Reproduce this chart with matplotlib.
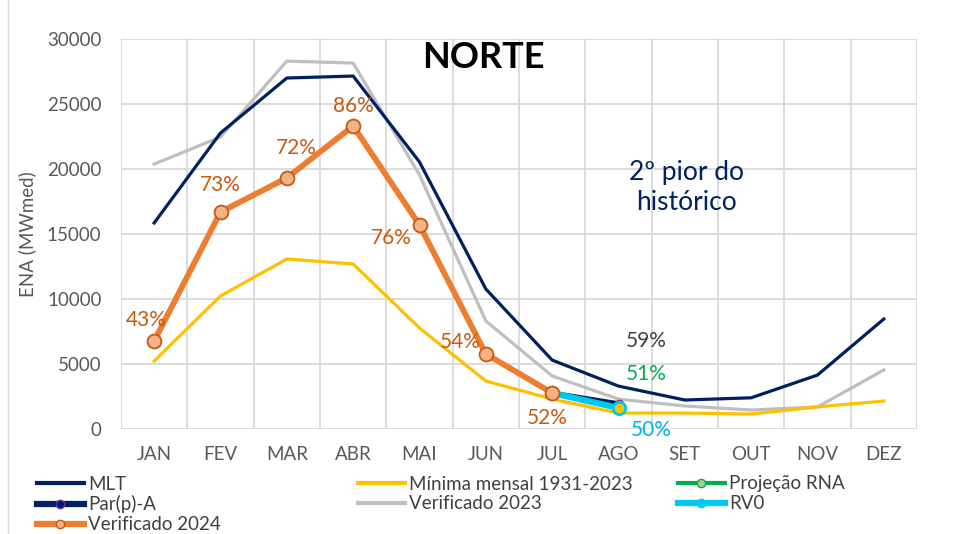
import matplotlib
matplotlib.use("Agg")
import matplotlib.pyplot as plt
from matplotlib.lines import Line2D
import numpy as np

plt.rcParams['font.family'] = ['Lato', 'DejaVu Sans']

months = ["JAN", "FEV", "MAR", "ABR", "MAI", "JUN", "JUL", "AGO", "SET", "OUT", "NOV", "DEZ"]
mlt = [15850, 22770, 27000, 27150, 20540, 10770, 5300, 3300, 2230, 2400, 4150, 8460]
minima = [5230, 10230, 13080, 12690, 7770, 3690, 2300, 1230, 1230, 1150, 1700, 2150]
ver2023 = [20380, 22460, 28300, 28150, 19540, 8310, 4080, 2300, 1770, 1460, 1700, 4540]
ver2024 = [6770, 16690, 19310, 23310, 15690, 5770, 2770]
proj_rna = [2770, 1680]
parpa = [2770, 1950]
rv0 = [2770, 1620]
pct_2024 = ["43%", "73%", "72%", "86%", "76%", "54%", "52%"]

x = np.arange(len(months))

fig = plt.figure(figsize=(9.58, 5.34), dpi=100)
ax = fig.add_axes([121/958, 1-429/534, (917-121)/958, (429-39)/534])

navy = "#002060"
ax.plot(x, mlt, color=navy, lw=2.3, zorder=3)
ax.plot(x, minima, color="#FFC000", lw=2.3, zorder=3)
ax.plot(x, ver2023, color="#BFBFBF", lw=2.3, zorder=2)
ax.plot(x[6:8], proj_rna, color="#00B050", lw=2.5, marker="o", ms=5, mfc="#A9D18E", mec="#00B050", zorder=4)
ax.plot(x[6:8], parpa, color=navy, lw=3.5, marker="o", ms=6, mfc=navy, mec="#7030A0", zorder=5)
ax.plot(x[6:8], rv0, color="#00C8F0", lw=4.5, marker="o", ms=9, mfc="#FFC000", mec="#00C8F0", mew=2, zorder=6)
ax.plot(x[:7], ver2024, color="#ED7D31", lw=4.2, marker="o", ms=10, mfc="#F4B183", mec="#C55A11", mew=1.3, zorder=7)

ax.set_xlim(-0.5, 11.5)
ax.set_ylim(0, 30000)
ax.set_yticks(np.arange(0, 30001, 5000))
ax.set_xticks(x)
ax.set_xticklabels(months)
ax.set_xticks(np.arange(-0.5, 12, 1), minor=True)
ax.yaxis.grid(True, color="#D9D9D9", lw=1.3)
ax.xaxis.grid(True, which="minor", color="#D9D9D9", lw=1.3)
ax.set_axisbelow(True)
for s in ax.spines.values():
    s.set_visible(False)
ax.tick_params(which="both", length=0)
ax.tick_params(axis="x", labelsize=13.5, colors="#595959", pad=12)
ax.tick_params(axis="y", labelsize=13.5, colors="#595959", pad=14)
ax.set_ylabel("ENA (MWmed)", fontsize=13.5, color="#595959", labelpad=8)

orange = "#C55A11"
pct_pos = [(-0.12, 8380), (1.0, 18770), (2.14, 21620), (3.0, 24850), (3.57, 14690), (4.62, 6690), (5.93, 850)]
for (px, py), t in zip(pct_pos, pct_2024):
    ax.text(px, py, t, color=orange, fontsize=15, ha="center", va="center", zorder=8)
ax.text(7.42, 6770, "59%", color="#404040", fontsize=15, ha="center", va="center")
ax.text(7.42, 4230, "51%", color="#00B050", fontsize=15, ha="center", va="center")
ax.text(7.5, -80, "50%", color="#00B0F0", fontsize=15, ha="center", va="center", clip_on=False)
ax.text(8.02, 18540, "2º pior do\nhistórico", color=navy, fontsize=19, ha="center", va="center", linespacing=1.25)
ax.text(4.96, 28540, "NORTE", color="black", fontsize=26, fontweight="bold", ha="center", va="center")

def h(color, lw, marker=None, mfc=None, mec=None):
    return Line2D([], [], color=color, lw=lw, marker=marker, ms=6, mfc=mfc, mec=mec)

cols = [
    ([h(navy, 3), h(navy, 4.5, "o", navy, "#7030A0"), h("#ED7D31", 4.5, "o", "#F4B183", orange)],
     ["MLT", "Par(p)-A", "Verificado 2024"], 37),
    ([h("#FFC000", 3), h("#BFBFBF", 3)], ["Mínima mensal 1931-2023", "Verificado 2023"], 358),
    ([h("#00B050", 3, "o", "#A9D18E", "#00B050"), h("#00C8F0", 4.5, "o", "#00C8F0", "#00C8F0")],
     ["Projeção RNA", "RV0"], 678),
]
for handles, labels, px in cols:
    fig.legend(handles, labels, loc="upper left", bbox_to_anchor=(px/958 - 0.008, 1-468/534),
               frameon=False, fontsize=13.5, handlelength=2.5, handletextpad=0.25,
               labelspacing=0.15, borderaxespad=0, labelcolor="#404040")

fig.add_artist(Line2D([8/958, 8/958], [0, 1], transform=fig.transFigure, color="#D9D9D9", lw=1))
fig.savefig("out.png", dpi=100)
